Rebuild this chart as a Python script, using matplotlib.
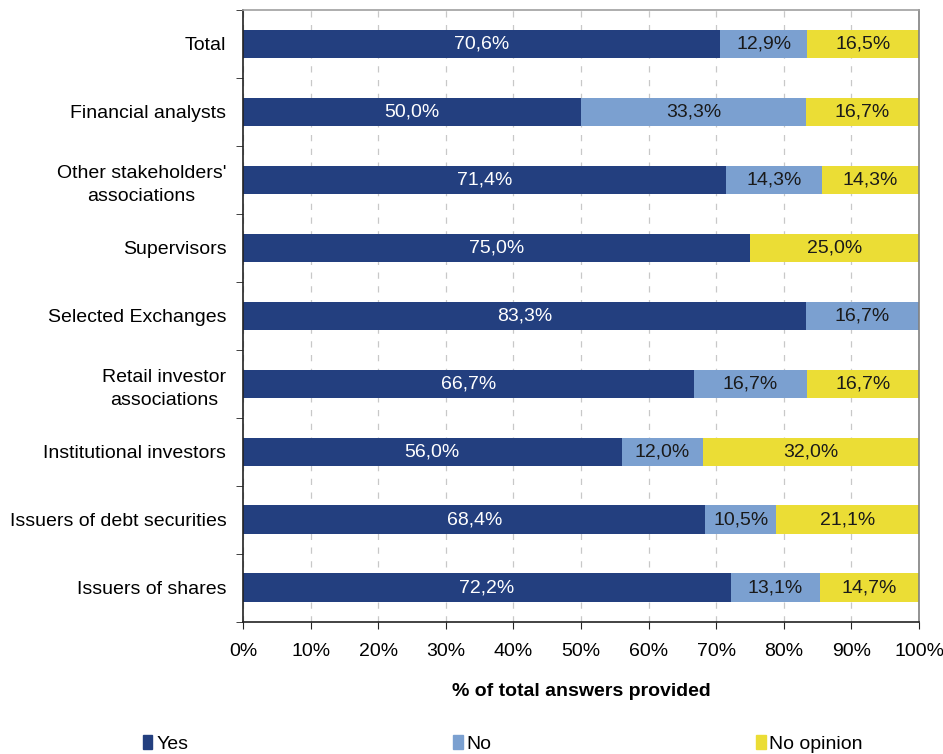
import matplotlib.pyplot as plt
import numpy as np
from matplotlib.patches import Patch
from matplotlib.ticker import FixedLocator

plt.rcParams['font.family'] = ['Liberation Sans', 'DejaVu Sans']
plt.rcParams['font.size'] = 14

categorias = ["Total", "Financial analysts", "Other stakeholders'\nassociations",
              "Supervisors", "Selected Exchanges", "Retail investor\nassociations",
              "Institutional investors", "Issuers of debt securities", "Issuers of shares"]
yes = [70.6, 50.0, 71.4, 75.0, 83.3, 66.7, 56.0, 68.4, 72.2]
no = [12.9, 33.3, 14.3, 0.0, 16.7, 16.7, 12.0, 10.5, 13.1]
no_opinion = [16.5, 16.7, 14.3, 25.0, 0.0, 16.7, 32.0, 21.1, 14.7]
series = ["Yes", "No", "No opinion"]

colores = ["#233f7f", "#7ba0d0", "#ebdd35"]
col_texto = ["white", "#1a1a1a", "#1a1a1a"]

fig = plt.figure(figsize=(9.43, 7.54), dpi=100)
ax = fig.add_axes([243/943, 1-621.7/754, (919-243)/943, (621.7-10)/754])

y = np.arange(len(categorias))
izq = np.zeros(len(categorias))
for vals, c, tc in zip([yes, no, no_opinion], colores, col_texto):
    vals = np.array(vals)
    barras = ax.barh(y, vals, left=izq, height=0.42, color=c, zorder=3)
    for b, v in zip(barras, vals):
        if v > 0:
            ax.text(b.get_x()+b.get_width()/2, b.get_y()+b.get_height()/2,
                    f"{v:.1f}%".replace(".", ","), ha="center", va="center",
                    color=tc, fontsize=14, zorder=4)
    izq += vals

ax.set_xlim(0, 100)
ax.set_ylim(len(categorias)-0.5, -0.5)
ax.set_xticks(np.arange(0, 101, 10))
ax.set_xticklabels([f"{t}%" for t in range(0, 101, 10)])
ax.set_yticks(y)
ax.set_yticklabels(categorias, multialignment="center", linespacing=1.5)
ax.yaxis.set_minor_locator(FixedLocator(np.arange(-0.5, len(categorias), 1)))
ax.tick_params(axis="y", which="major", length=0, pad=12)
ax.tick_params(axis="y", which="minor", length=5, direction="out", color="#222222")
ax.tick_params(axis="x", length=5, direction="out", pad=10, color="#222222")

ax.grid(axis="x", linestyle=(0, (5, 6)), color="#c8c8c8", linewidth=0.9, zorder=0)
for lado, col in [("left", "#222222"), ("bottom", "#222222"),
                  ("top", "#a0a0a0"), ("right", "#808080")]:
    ax.spines[lado].set_color(col)
    ax.spines[lado].set_linewidth(1.2)
    ax.spines[lado].set_zorder(5)

ax.set_xlabel("% of total answers provided", fontweight="bold", labelpad=17)

handles = [Patch(color=c, label=s) for c, s in zip(colores, series)]
fig.legend(handles=handles, loc="center left", bbox_to_anchor=(133/943, 1-744/754),
           ncol=3, frameon=False, borderpad=0, handlelength=0.5, handleheight=0.75,
           handletextpad=0.2, columnspacing=13.6, fontsize=14)

fig.savefig("out.png", dpi=100)
